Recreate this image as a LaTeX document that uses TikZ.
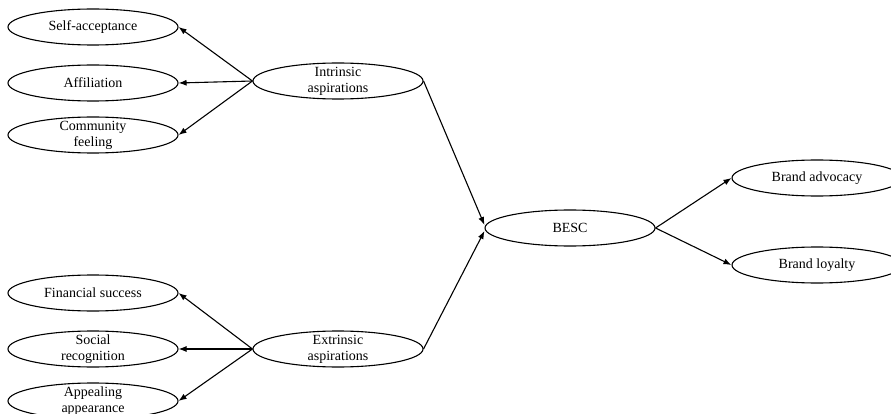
\documentclass[tikz,border=0pt]{standalone}
\usepackage{fontspec}
\setmainfont{Liberation Serif}
\usetikzlibrary{shapes.geometric,arrows.meta}

\tikzset{
  oval/.style={ellipse, draw=black, line width=1.1pt, inner sep=0pt,
               minimum width=170pt, minimum height=36pt},
  txt/.style={label={[align=center, inner sep=0pt, font=\fontsize{14}{16}\selectfont]center:#1}},
  link/.style={line width=1.1pt, -{Latex[length=8pt,width=6pt]}}
}

\begin{document}
\begin{tikzpicture}[x=1pt, y=-1pt]
  \useasboundingbox (0,0) rectangle (891,414);
  \clip (0,0) rectangle (891,414);

  % first-order constructs
  \node[oval, txt={Intrinsic\\aspirations}] (intr) at (338,81) {};
  \node[oval, txt={Extrinsic\\aspirations}] (extr) at (338,349) {};
  \node[oval, txt={BESC}] (besc) at (570,228) {};

  % intrinsic dimensions
  \node[oval, txt={Self-acceptance}] (self) at (93,27) {};
  \node[oval, txt={Affiliation}] (aff) at (93,83) {};
  \node[oval, txt={Community\\feeling}] (comm) at (93,135) {};

  % extrinsic dimensions
  \node[oval, txt={Financial success}] (fin) at (93,293) {};
  \node[oval, txt={Social\\recognition}] (soc) at (93,349) {};
  \node[oval, txt={Appealing\\appearance}] (app) at (93,401) {};

  % outcomes
  \node[oval, txt={Brand advocacy}] (adv) at (817,178) {};
  \node[oval, txt={Brand loyalty}] (loy) at (817,265) {};

  % paths
  \draw[link] (intr.west) -- (self.east);
  \draw[link] (intr.west) -- (aff.east);
  \draw[link] (intr.west) -- (comm.east);
  \draw[link] (extr.west) -- (fin.east);
  \draw[link] (extr.west) -- (soc.east);
  \draw[link] (extr.west) -- (app.east);
  \draw[link] (intr.east) -- ([yshift=3pt]besc.west);
  \draw[link] (extr.east) -- ([yshift=-3pt]besc.west);
  \draw[link] (besc.east) -- (adv.west);
  \draw[link] (besc.east) -- (loy.west);
\end{tikzpicture}
\end{document}
